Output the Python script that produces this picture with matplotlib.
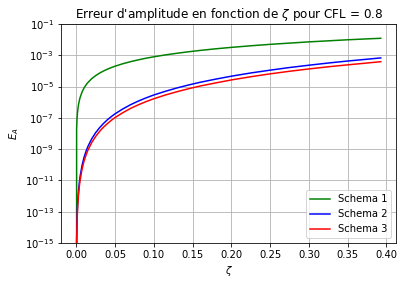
import matplotlib.pyplot as plt
from matplotlib.ticker import NullLocator

# valeurs
zeta = [0.0, 0.0005, 0.001, 0.0015, 0.002, 0.003, 0.004, 0.005, 0.0075, 0.01, 0.0125, 0.015,
        0.02, 0.025, 0.03, 0.035, 0.04, 0.045, 0.05, 0.06, 0.07, 0.08, 0.09, 0.1, 0.115,
        0.13, 0.145, 0.16, 0.18, 0.2, 0.225, 0.25, 0.275, 0.3, 0.325, 0.35, 0.375, 0.3927]
schema1 = [0.0, 2.0e-8, 8.0e-8, 1.8e-7, 3.2e-7, 7.2e-7, 1.28e-6, 2.0e-6, 4.5e-6, 8.0e-6, 1.25e-5, 1.8e-5,
           3.2e-5, 5.0e-5, 7.2e-5, 9.8e-5, 1.28e-4, 1.62e-4, 2.0e-4, 2.88e-4, 3.9e-4, 5.1e-4, 6.5e-4, 8.0e-4, 1.06e-3,
           1.35e-3, 1.68e-3, 2.05e-3, 2.6e-3, 3.2e-3, 4.05e-3, 5.0e-3, 6.0e-3, 7.2e-3, 8.4e-3, 9.8e-3, 1.12e-2, 1.22e-2]
schema2 = [0.0, 1.8e-15, 2.9e-14, 1.46e-13, 4.6e-13, 2.3e-12, 7.4e-12, 1.8e-11, 9.1e-11, 2.9e-10, 7.0e-10, 1.46e-9,
           4.6e-9, 1.12e-8, 2.3e-8, 4.3e-8, 7.4e-8, 1.18e-7, 1.8e-7, 3.7e-7, 6.9e-7, 1.18e-6, 1.89e-6, 2.9e-6, 5.0e-6,
           8.2e-6, 1.27e-5, 1.89e-5, 3.0e-5, 4.6e-5, 7.4e-5, 1.12e-4, 1.65e-4, 2.32e-4, 3.2e-4, 4.3e-4, 5.6e-4, 6.8e-4]
schema3 = [0.0, 1.0e-15, 1.66e-14, 8.4e-14, 2.65e-13, 1.34e-12, 4.2e-12, 1.04e-11, 5.2e-11, 1.66e-10, 4.0e-10, 8.4e-10,
           2.65e-9, 6.4e-9, 1.34e-8, 2.5e-8, 4.2e-8, 6.8e-8, 1.04e-7, 2.13e-7, 4.0e-7, 6.8e-7, 1.09e-6, 1.66e-6, 2.9e-6,
           4.7e-6, 7.3e-6, 1.09e-5, 1.72e-5, 2.65e-5, 4.25e-5, 6.5e-5, 9.5e-5, 1.34e-4, 1.84e-4, 2.45e-4, 3.2e-4, 3.9e-4]

fig = plt.figure(figsize=(404/72, 284/72), dpi=72)
ax = fig.add_axes([61/404, 1-243/284, 335/404, 219/284])

ax.semilogy(zeta, schema1, color="green", label="Schema 1")
ax.semilogy(zeta, schema2, color="blue", label="Schema 2")
ax.semilogy(zeta, schema3, color="red", label="Schema 3")

ax.set_ylim(1e-15, 1e-1)
ax.set_yticks([1e-15, 1e-13, 1e-11, 1e-9, 1e-7, 1e-5, 1e-3, 1e-1])
ax.yaxis.set_minor_locator(NullLocator())
ax.set_xticks([0.0, 0.05, 0.1, 0.15, 0.2, 0.25, 0.3, 0.35, 0.4])
ax.grid(True)
ax.set_xlabel(r"$\zeta$")
ax.set_ylabel(r"$E_A$")
ax.set_title(r"Erreur d'amplitude en fonction de $\zeta$ pour CFL = 0.8")
ax.legend(loc="lower right")

fig.savefig("out.png", dpi=72)
